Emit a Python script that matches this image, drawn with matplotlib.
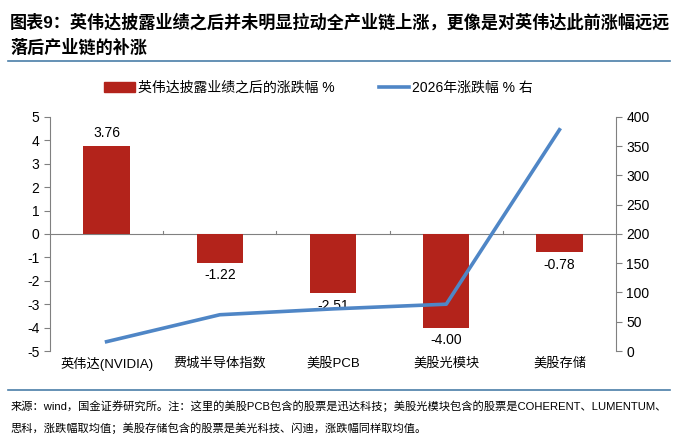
import matplotlib
matplotlib.use("Agg")
import matplotlib.pyplot as plt
from matplotlib.patches import Patch
from matplotlib.lines import Line2D

plt.rcParams['font.family'] = ['Liberation Sans', 'Noto Sans CJK SC', 'DejaVu Sans']
plt.rcParams['axes.unicode_minus'] = False

categories = ["英伟达(NVIDIA)", "费城半导体指数", "美股PCB", "美股光模块", "美股存储"]
after_earnings = [3.76, -1.22, -2.51, -4.00, -0.78]
ytd_2026 = [16, 62, 72, 80, 378]
left_ticks = list(range(-5, 6))
right_ticks = list(range(0, 401, 50))

bar_color = "#B3231B"
line_color = "#4F86C6"
grey = "#808080"

fig = plt.figure(figsize=(6.8, 4.41), dpi=100)
ax = fig.add_axes([0.0735, 0.204, 0.8325, 0.531])
ax2 = ax.twinx()

x = list(range(len(categories)))
ax.bar(x, after_earnings, width=0.41, color=bar_color, zorder=2)
ax.set_ylim(-5, 5)
ax.set_yticks(left_ticks)
ax.set_xlim(-0.5, len(categories) - 0.5)
ax.axhline(0, color=grey, lw=0.8, zorder=1)
ax.set_xticks([i + 0.5 for i in x[:-1]])
ax.set_xticklabels([])
ax.tick_params(axis='x', length=0)
for i in x[:-1]:
    ax.plot([i + 0.5, i + 0.5], [0, 0.12], color=grey, lw=0.8, zorder=1)
for i, name in enumerate(categories):
    ax.text(i, -5.25, name, ha='center', va='top', fontsize=9.5,
            transform=ax.transData)

for i, v in enumerate(after_earnings):
    if v >= 0:
        ax.text(i, v + 0.25, f"{v:.2f}", ha='center', va='bottom', fontsize=10)
    else:
        ax.text(i, v - 0.25, f"{v:.2f}", ha='center', va='top', fontsize=10)

ax2.plot(x, ytd_2026, color=line_color, lw=2.6, zorder=3)
ax2.set_ylim(0, 400)
ax2.set_yticks(right_ticks)

for a in (ax, ax2):
    a.spines['top'].set_visible(False)
    a.spines['bottom'].set_visible(False)
    a.spines['left'].set_color(grey)
    a.spines['right'].set_color(grey)
    a.tick_params(axis='y', labelsize=10, color=grey, length=4)
ax.spines['right'].set_visible(False)
ax2.spines['left'].set_visible(False)
ax.set_zorder(ax2.get_zorder() - 1)
ax.patch.set_visible(False)

handles = [Patch(color=bar_color), Line2D([0], [0], color=line_color, lw=2.6)]
labels = ["英伟达披露业绩之后的涨跌幅 %", "2026年涨跌幅 % 右"]
fig.legend(handles, labels, loc='center left', bbox_to_anchor=(0.135, 0.8),
           ncol=2, frameon=False, fontsize=10, handlelength=2.2,
           handletextpad=0.2, columnspacing=3.2)

fig.text(0.015, 0.95, "图表9：英伟达披露业绩之后并未明显拉动全产业链上涨，更像是对英伟达此前涨幅远远",
         fontsize=12.3, fontweight='bold', ha='left', va='center')
fig.text(0.015, 0.893, "落后产业链的补涨",
         fontsize=12.3, fontweight='bold', ha='left', va='center')
fig.add_artist(Line2D([0.012, 0.985], [0.862, 0.862], color="#4A7EA8", lw=1.2))
fig.add_artist(Line2D([0.012, 0.985], [0.116, 0.116], color="#4A7EA8", lw=1.2))

fig.text(0.015, 0.079, "来源：wind，国金证券研究所。注：这里的美股PCB包含的股票是迅达科技；美股光模块包含的股票是COHERENT、LUMENTUM、",
         fontsize=8.1, ha='left', va='center')
fig.text(0.015, 0.029, "思科，涨跌幅取均值；美股存储包含的股票是美光科技、闪迪，涨跌幅同样取均值。",
         fontsize=8.1, ha='left', va='center')

fig.savefig("out.png", dpi=100)
